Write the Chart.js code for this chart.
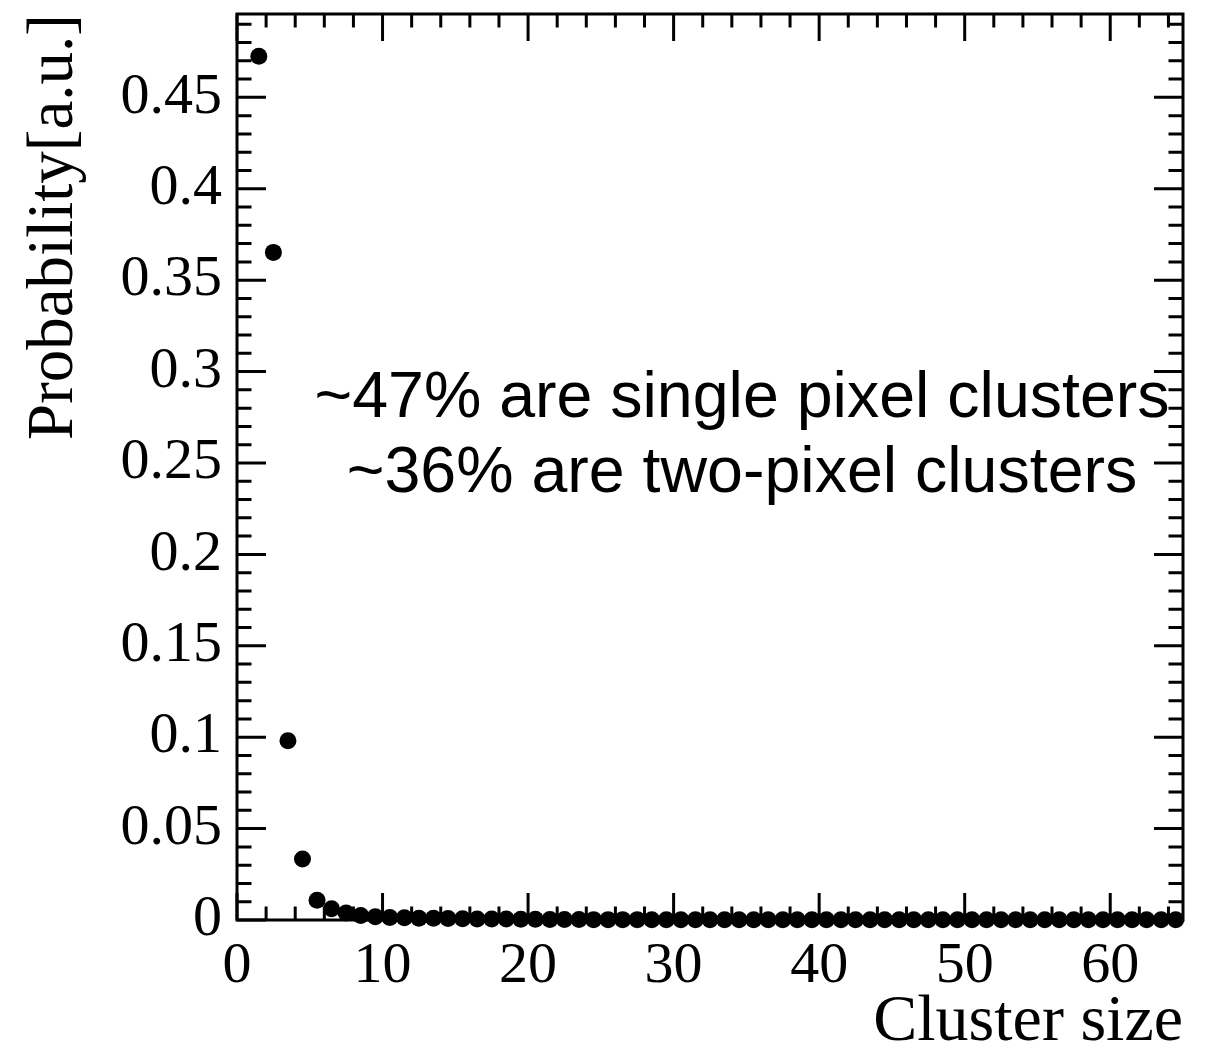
<!DOCTYPE html>
<html>
<head>
<meta charset="utf-8">
<title>Cluster size distribution</title>
<script src="https://cdn.jsdelivr.net/npm/chart.js@4.4.1/dist/chart.umd.min.js"></script>
<style>
  html, body { margin: 0; padding: 0; background: #fff; }
  canvas { display: block; }
</style>
</head>
<body>
<canvas id="c" width="1214" height="1056"></canvas>
<script>
// Cluster sizes (histogram bins [n, n+1))
const clusterSizes = [
  1, 2, 3, 4, 5, 6, 7, 8, 9, 10, 11, 12, 13, 14, 15, 16,
  17, 18, 19, 20, 21, 22, 23, 24, 25, 26, 27, 28, 29, 30, 31, 32,
  33, 34, 35, 36, 37, 38, 39, 40, 41, 42, 43, 44, 45, 46, 47, 48,
  49, 50, 51, 52, 53, 54, 55, 56, 57, 58, 59, 60, 61, 62, 63, 64
];
// Normalised probability per cluster size
const probability = [
  0.4725, 0.3652, 0.0980, 0.0334, 0.0108, 0.0062, 0.0038, 0.0025,
  0.0018, 0.0014, 0.0012, 0.0010, 0.0009, 0.0008, 0.0007, 0.0006,
  0.0005, 0.0005, 0.0004, 0.0004, 0.0003, 0.0003, 0.0003, 0.0002,
  0.0002, 0.0002, 0.0002, 0.0001, 0.0001, 0.0001, 0.0001, 0.0001,
  0.0001, 0.0001, 0.0001, 0.0001, 0.0001, 0.0001, 0.0001, 0.0001,
  0.0001, 0.0001, 0.0001, 0.0001, 0.0001, 0.0001, 0.0001, 0.0001,
  0.0001, 0.0001, 0.0001, 0.0001, 0.0001, 0.0001, 0.0001, 0.0001,
  0.0001, 0.0001, 0.0001, 0.0001, 0.0001, 0.0001, 0.0001, 0.0001
];
const xLabel = 'Cluster size';
const yLabel = 'Probability[a.u.]';
const noteLines = ['~47% are single pixel clusters', '~36% are two-pixel clusters'];

const X_MIN = 0, X_MAX = 65;
const Y_MIN = 0, Y_MAX = 0.4956;
const X_MAJOR = 10, X_MINOR = 2;
const Y_MAJOR = 0.05, Y_MINOR = 0.01;

const serif = "'Liberation Serif', 'Times New Roman', serif";
const sans = "'Liberation Sans', Arial, Helvetica, sans-serif";

// points sit at the bin centres
const points = clusterSizes.map((s, i) => ({ x: s + 0.5, y: probability[i] }));

// Frame with inward major/minor ticks on all four sides, plus the text note
const frameAndTicks = {
  id: 'frameAndTicks',
  beforeDatasetsDraw(chart) {
    const { ctx, chartArea: a, scales: { x, y } } = chart;
    ctx.save();
    ctx.strokeStyle = '#000';
    ctx.lineWidth = 3;
    ctx.lineCap = 'butt';
    ctx.strokeRect(a.left, a.top, a.right - a.left, a.bottom - a.top);
    ctx.beginPath();
    const nx = Math.floor((X_MAX - X_MIN) / X_MINOR + 1e-9);
    for (let i = 0; i <= nx; i++) {
      const v = X_MIN + i * X_MINOR;
      const px = x.getPixelForValue(v);
      const len = (i % (X_MAJOR / X_MINOR) === 0) ? 27 : 13.5;
      ctx.moveTo(px, a.bottom); ctx.lineTo(px, a.bottom - len);
      ctx.moveTo(px, a.top); ctx.lineTo(px, a.top + len);
    }
    const ny = Math.floor((Y_MAX - Y_MIN) / Y_MINOR + 1e-9);
    for (let i = 0; i <= ny; i++) {
      const v = Y_MIN + i * Y_MINOR;
      const py = y.getPixelForValue(v);
      const len = (i % Math.round(Y_MAJOR / Y_MINOR) === 0) ? 29 : 14.5;
      ctx.moveTo(a.left, py); ctx.lineTo(a.left + len, py);
      ctx.moveTo(a.right, py); ctx.lineTo(a.right - len, py);
    }
    ctx.stroke();
    ctx.restore();
  },
  afterDraw(chart) {
    const { ctx, chartArea: a } = chart;
    ctx.save();
    ctx.fillStyle = '#000';
    ctx.font = '64.5px ' + sans;
    ctx.textAlign = 'center';
    ctx.textBaseline = 'alphabetic';
    const cx = a.left + 505;
    ctx.fillText(noteLines[0], cx, a.top + 403);
    ctx.fillText(noteLines[1], cx, a.top + 478);
    ctx.restore();
  }
};

const fmt = v => String(parseFloat(Number(v).toFixed(3)));

new Chart(document.getElementById('c'), {
  type: 'scatter',
  data: {
    datasets: [{
      data: points,
      backgroundColor: '#000',
      borderColor: '#000',
      pointRadius: 8.5,
      pointHoverRadius: 8.5,
      pointBorderWidth: 0,
      showLine: false,
      clip: false
    }]
  },
  options: {
    responsive: false,
    animation: false,
    devicePixelRatio: 1,
    layout: { padding: { left: 22, top: 14, right: 31, bottom: 0 } },
    plugins: { legend: { display: false }, tooltip: { enabled: false } },
    scales: {
      x: {
        type: 'linear',
        position: 'bottom',
        min: X_MIN,
        max: X_MAX,
        afterFit: s => { s.height = 136; s.paddingLeft = 0; s.paddingRight = 0; },
        grid: { display: false, drawTicks: false },
        border: { display: false },
        ticks: {
          stepSize: X_MAJOR,
          includeBounds: false,
          maxRotation: 0,
          autoSkip: false,
          padding: 12,
          color: '#000',
          font: { family: serif, size: 58 },
          callback: v => fmt(v)
        },
        title: {
          display: true,
          text: xLabel,
          align: 'end',
          color: '#000',
          font: { family: serif, size: 66, lineHeight: 1 },
          padding: 0
        }
      },
      y: {
        type: 'linear',
        position: 'left',
        min: Y_MIN,
        max: Y_MAX,
        afterFit: s => { s.width = 215; s.paddingTop = 0; s.paddingBottom = 0; },
        grid: { display: false, drawTicks: false },
        border: { display: false },
        ticks: {
          stepSize: Y_MAJOR,
          includeBounds: false,
          autoSkip: false,
          padding: 15,
          color: '#000',
          font: { family: serif, size: 58 },
          callback: v => fmt(v)
        },
        title: {
          display: true,
          text: yLabel,
          align: 'end',
          color: '#000',
          font: { family: serif, size: 65, lineHeight: 1 },
          padding: 0
        }
      }
    }
  },
  plugins: [frameAndTicks]
});
</script>
</body>
</html>
